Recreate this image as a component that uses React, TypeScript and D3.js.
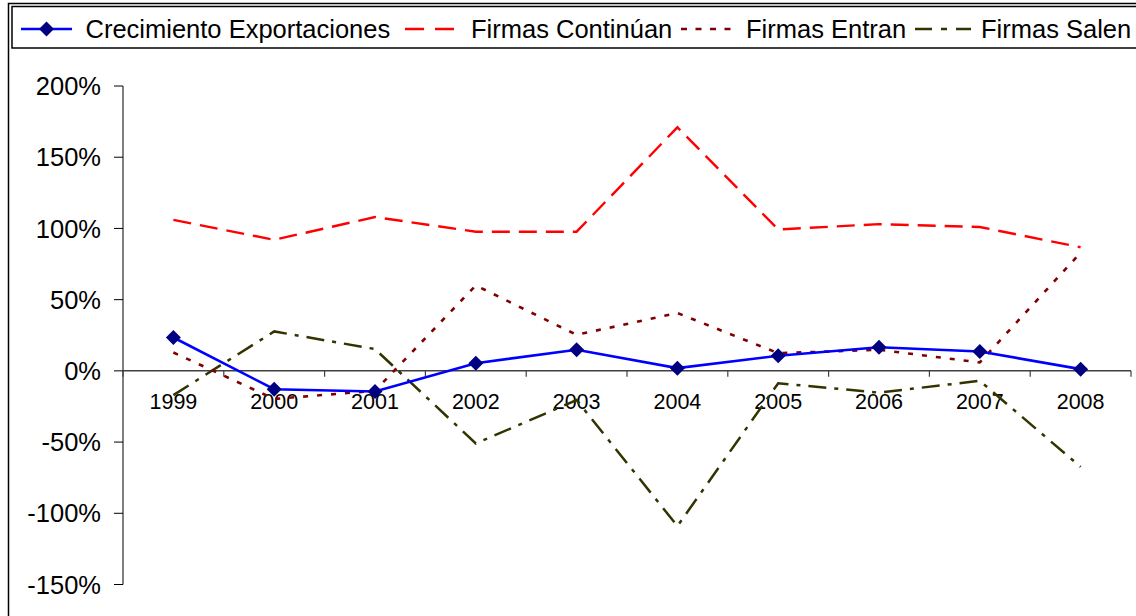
import React from "react";
import * as d3 from "d3";

const years = ["1999", "2000", "2001", "2002", "2003", "2004", "2005", "2006", "2007", "2008"];
const crecimiento = [23.4, -12.9, -14.5, 5.4, 14.8, 1.9, 10.6, 16.6, 13.6, 1.2];
const continuan = [106, 92, 108, 97.7, 97.7, 171, 99.3, 103, 101, 86.8];
const entran = [12.9, -19.7, -14, 60, 25.3, 40.6, 12.4, 14.8, 5.9, 83];
const salen = [-17, 27.7, 15.3, -51, -20.5, -109, -8.7, -15.3, -7, -67.4];
const yTicks = [200, 150, 100, 50, 0, -50, -100, -150];

const seriesNames = ["Crecimiento Exportaciones", "Firmas Continúan", "Firmas Entran", "Firmas Salen"];

const FONT = "Arial, 'Liberation Sans', sans-serif";

export default function App() {
  const W = 1136, H = 616;
  const x = d3.scaleBand<string>().domain(years).range([123, 1131]);
  const y = d3.scaleLinear().domain([-150, 200]).range([584.5, 86]);
  const cx = (i: number) => (x(years[i]) as number) + x.bandwidth() / 2;
  const line = (vals: number[]) =>
    d3.line<number>().x((_, i) => cx(i)).y((v) => y(v))(vals) as string;

  const series = [
    { name: seriesNames[0], vals: crecimiento, color: "#0000FF", dash: "", width: 2.6 },
    { name: seriesNames[1], vals: continuan, color: "#FF0000", dash: "18,9", width: 2.4 },
    { name: seriesNames[2], vals: entran, color: "#800000", dash: "5,9", width: 2.6 },
    { name: seriesNames[3], vals: salen, color: "#333300", dash: "18,8,4,8", width: 2.5 },
  ];

  const diamond = (px: number, py: number, r: number) =>
    `M${px},${py - r}L${px + r},${py}L${px},${py + r}L${px - r},${py}Z`;

  const legendItems = [
    { sx0: 21, sx1: 72, tx: 85.5 },
    { sx0: 405, sx1: 454, tx: 471 },
    { sx0: 681, sx1: 735, tx: 746 },
    { sx0: 915, sx1: 971, tx: 981 },
  ];

  const boundaries = years.map((yr) => x(yr) as number).concat([x.range()[1]]);

  return (
    <svg width={W} height={H} style={{ position: "absolute", left: 0, top: 0, background: "#fff" }} fontFamily={FONT}>
      <rect x={0} y={0} width={W} height={H} fill="#fff" />
      {/* chart frame */}
      <rect x={8.5} y={3.5} width={W + 10} height={H + 10} fill="none" stroke="#000" strokeWidth={1.5} />
      {/* legend box */}
      <rect x={12} y={6.5} width={W + 10} height={41.5} fill="#fff" stroke="#000" strokeWidth={1.5} />
      {series.map((s, k) => {
        const li = legendItems[k];
        const ly = 29;
        return (
          <g key={s.name}>
            <line x1={li.sx0} x2={li.sx1} y1={ly} y2={ly} stroke={s.color} strokeWidth={s.width}
              strokeDasharray={k === 1 ? "19,11" : k === 2 ? "6,8.5" : k === 3 ? "17,9,6,9" : undefined} />
            {k === 0 && <path d={diamond((li.sx0 + li.sx1) / 2, ly, 7.5)} fill="#000080" />}
            <text x={li.tx} y={ly} dy="0.35em" fontSize={25.5} fill="#000">{s.name}</text>
          </g>
        );
      })}

      {/* y axis */}
      <line x1={123} x2={123} y1={y(200)} y2={y(-150)} stroke="#000" strokeWidth={1} />
      {yTicks.map((t) => (
        <g key={t}>
          <line x1={114} x2={123} y1={y(t)} y2={y(t)} stroke="#000" strokeWidth={1} />
          <text x={101} y={y(t)} dy="0.36em" textAnchor="end" fontSize={25.5} fill="#000">{`${t}%`}</text>
        </g>
      ))}

      {/* x axis at 0 */}
      <line x1={123} x2={1131} y1={y(0)} y2={y(0)} stroke="#404040" strokeWidth={1.5} />
      {boundaries.map((b, i) => (
        <line key={i} x1={b} x2={b} y1={y(0)} y2={y(0) + 6} stroke="#404040" strokeWidth={1.2} />
      ))}
      {years.map((yr, i) => (
        <text key={yr} x={cx(i)} y={409} textAnchor="middle" fontSize={21.5} fill="#000">{yr}</text>
      ))}

      {/* series lines */}
      {[3, 2, 1, 0].map((k) => {
        const s = series[k];
        return (
          <path key={s.name} d={line(s.vals)} fill="none" stroke={s.color} strokeWidth={s.width}
            strokeDasharray={s.dash || undefined} strokeLinejoin="miter" />
        );
      })}
      {crecimiento.map((v, i) => (
        <path key={i} d={diamond(cx(i), y(v), 7.5)} fill="#000080" />
      ))}
    </svg>
  );
}
